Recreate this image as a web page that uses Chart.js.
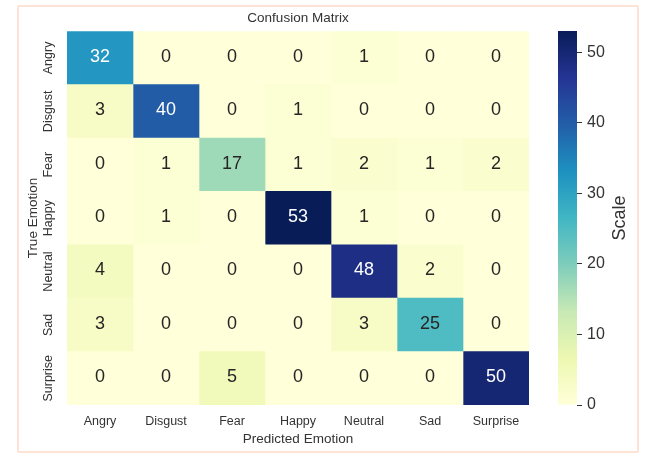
<!DOCTYPE html>
<html>
<head>
<meta charset="utf-8">
<script src="https://cdn.jsdelivr.net/npm/chart.js@4.4.0/dist/chart.umd.min.js"></script>
<style>
html, body { margin: 0; padding: 0; background: #ffffff; }
#wrap { position: relative; width: 646px; height: 456px; overflow: hidden; }
#frame { position: absolute; left: 17px; top: 5px; width: 618px; height: 444px; border: 2px solid #fce3d5; border-radius: 2px; }
#main { position: absolute; left: 0; top: 0; }
#bar { position: absolute; left: 540px; top: 0; }
</style>
</head>
<body>
<div id="wrap">
  <div id="frame"></div>
  <canvas id="main" width="646" height="456"></canvas>
  <canvas id="bar" width="106" height="456"></canvas>
</div>
<script>
// ---- data ----
const trueLabels = ['Angry', 'Disgust', 'Fear', 'Happy', 'Neutral', 'Sad', 'Surprise'];
const predLabels = ['Angry', 'Disgust', 'Fear', 'Happy', 'Neutral', 'Sad', 'Surprise'];
const angryRow    = [32, 0, 0, 0, 1, 0, 0];
const disgustRow  = [3, 40, 0, 1, 0, 0, 0];
const fearRow     = [0, 1, 17, 1, 2, 1, 2];
const happyRow    = [0, 1, 0, 53, 1, 0, 0];
const neutralRow  = [4, 0, 0, 0, 48, 2, 0];
const sadRow      = [3, 0, 0, 0, 3, 25, 0];
const surpriseRow = [0, 0, 5, 0, 0, 0, 50];
const scaleTicks  = [0, 10, 20, 30, 40, 50];

const matrix = [angryRow, disgustRow, fearRow, happyRow, neutralRow, sadRow, surpriseRow];
const vmin = 0;
const vmax = Math.max(...matrix.flat());

const FONT = "'Liberation Sans', Arial, Helvetica, sans-serif";
const TEXT = '#333333';
Chart.defaults.font.family = FONT;

// YlGnBu colormap
const ylgnbu = ['#ffffd9', '#edf8b1', '#c7e9b4', '#7fcdbb', '#41b6c4', '#1d91c0', '#225ea8', '#253494', '#081d58'];
function hexToRgb(h) { return [parseInt(h.slice(1, 3), 16), parseInt(h.slice(3, 5), 16), parseInt(h.slice(5, 7), 16)]; }
const stopsRgb = ylgnbu.map(hexToRgb);
function cmapRgb(v) {
  const t = Math.min(1, Math.max(0, (v - vmin) / (vmax - vmin)));
  const pos = t * (stopsRgb.length - 1);
  const i = Math.min(stopsRgb.length - 2, Math.floor(pos));
  const f = pos - i;
  return stopsRgb[i].map((c, k) => Math.round(c + (stopsRgb[i + 1][k] - c) * f));
}
function cmap(v) { const c = cmapRgb(v); return 'rgb(' + c.join(',') + ')'; }
function luminance(rgb) {
  const l = rgb.map(c => { c /= 255; return c <= 0.03928 ? c / 12.92 : Math.pow((c + 0.055) / 1.055, 2.4); });
  return 0.2126 * l[0] + 0.7152 * l[1] + 0.0722 * l[2];
}
function textColor(v) { return luminance(cmapRgb(v)) < 0.4 ? '#ffffff' : '#262626'; }

// ---- heatmap (stacked horizontal bars: one stack segment per cell) ----
const datasets = predLabels.map((p, j) => ({
  label: p,
  data: trueLabels.map(() => 1),
  backgroundColor: trueLabels.map((t, i) => cmap(matrix[i][j])),
  borderWidth: 0,
  categoryPercentage: 1,
  barPercentage: 1
}));

const cellText = {
  id: 'cellText',
  afterDatasetsDraw(chart) {
    const ctx = chart.ctx;
    ctx.save();
    ctx.textAlign = 'center';
    ctx.textBaseline = 'middle';
    ctx.font = '18px ' + FONT;
    chart.data.datasets.forEach((ds, j) => {
      chart.getDatasetMeta(j).data.forEach((bar, i) => {
        const v = matrix[i][j];
        ctx.fillStyle = textColor(v);
        ctx.fillText(String(v), (bar.x + bar.base) / 2, bar.y - 1);
      });
    });
    // rotated y tick labels
    const ys = chart.scales.y;
    ctx.font = '12.5px ' + FONT;
    ctx.fillStyle = TEXT;
    trueLabels.forEach((lab, i) => {
      ctx.save();
      ctx.translate(ys.right - 18, ys.getPixelForValue(i));
      ctx.rotate(-Math.PI / 2);
      ctx.fillText(lab, 0, 0);
      ctx.restore();
    });
    ctx.restore();
  }
};

new Chart(document.getElementById('main'), {
  type: 'bar',
  data: { labels: trueLabels, datasets: datasets },
  options: {
    responsive: false,
    animation: false,
    indexAxis: 'y',
    layout: { padding: { left: 14, right: 117, top: 0, bottom: 0 } },
    plugins: {
      legend: { display: false },
      tooltip: { enabled: false },
      title: {
        display: true, text: 'Confusion Matrix', fullSize: false, color: TEXT,
        font: { size: 13.5, weight: 'normal' }, padding: { top: 10, bottom: 5 }
      }
    },
    scales: {
      x: {
        type: 'linear', min: 0, max: predLabels.length, stacked: true,
        grid: { display: false, drawTicks: false }, border: { display: false },
        afterBuildTicks: s => { s.ticks = predLabels.map((_, i) => ({ value: i + 0.5 })); },
        ticks: { autoSkip: false, maxRotation: 0, minRotation: 0, padding: 9, color: TEXT,
                 font: { size: 12.5 }, callback: (v, i) => predLabels[i] },
        title: { display: true, text: 'Predicted Emotion', color: TEXT, font: { size: 13.5 },
                 padding: { top: 0, bottom: 9 } },
        afterFit: s => { s.height = 51; }
      },
      y: {
        type: 'category', stacked: true,
        grid: { display: false, drawTicks: false }, border: { display: false },
        ticks: { display: false },
        title: { display: true, text: 'True Emotion', color: TEXT, font: { size: 13.5 },
                 padding: { top: 11, bottom: 0 } },
        afterFit: s => { s.width = 53; }
      }
    }
  },
  plugins: [cellText]
});

// ---- colour bar ----
const scaleTitle = {
  id: 'scaleTitle',
  afterDraw(chart) {
    const ys = chart.scales.y;
    const ctx = chart.ctx;
    ctx.save();
    ctx.font = '18px ' + FONT;
    ctx.fillStyle = TEXT;
    ctx.textAlign = 'center';
    ctx.textBaseline = 'middle';
    ctx.translate(ys.left + 43, (ys.top + ys.bottom) / 2);
    ctx.rotate(-Math.PI / 2);
    ctx.fillText('Scale', 0, 0);
    ctx.restore();
  }
};

new Chart(document.getElementById('bar'), {
  type: 'bar',
  data: {
    labels: [''],
    datasets: [{
      data: [vmax],
      borderWidth: 0,
      categoryPercentage: 1,
      barPercentage: 1,
      backgroundColor: (c) => {
        const ch = c.chart;
        if (!ch.chartArea) return ylgnbu[0];
        const ys = ch.scales.y;
        const g = ch.ctx.createLinearGradient(0, ys.getPixelForValue(vmin), 0, ys.getPixelForValue(vmax));
        ylgnbu.forEach((col, k) => g.addColorStop(k / (ylgnbu.length - 1), col));
        return g;
      }
    }]
  },
  options: {
    responsive: false,
    animation: false,
    layout: { padding: { left: 18, top: 31, bottom: 51, right: 0 } },
    plugins: { legend: { display: false }, tooltip: { enabled: false } },
    scales: {
      x: { display: false },
      y: {
        position: 'right', min: vmin, max: vmax,
        afterBuildTicks: s => { s.ticks = scaleTicks.map(v => ({ value: v })); },
        grid: { drawOnChartArea: false, drawTicks: true, tickLength: 5, tickColor: TEXT },
        border: { display: false },
        ticks: { padding: 5, color: TEXT, font: { size: 16 } },
        afterFit: s => { s.width = 69; }
      }
    }
  },
  plugins: [scaleTitle]
});
</script>
</body>
</html>
